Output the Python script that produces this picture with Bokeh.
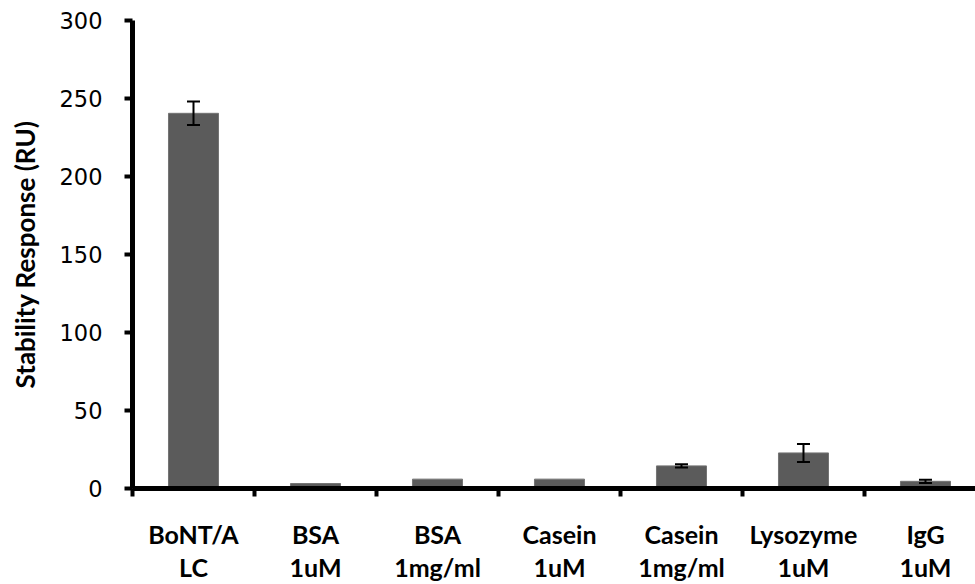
from bokeh.plotting import figure
from bokeh.models import (Range1d, FixedTicker, ColumnDataSource, Whisker,
                          TeeHead, LinearAxis)
from bokeh.embed import file_html
from bokeh.resources import INLINE

# ---- data ----
categories = ["BoNT/A\nLC", "BSA\n1uM", "BSA\n1mg/ml", "Casein\n1uM",
              "Casein\n1mg/ml", "Lysozyme\n1uM", "IgG\n1uM"]
values = [240.5, 3.2, 6.0, 6.0, 14.5, 22.8, 4.6]
errors = [7.5, 0.0, 0.0, 0.0, 1.0, 5.8, 1.0]
y_ticks = [0, 50, 100, 150, 200, 250, 300]

centers = [i + 0.5 for i in range(len(categories))]
bounds = [i for i in range(len(categories) + 1)]
line1 = [c.split("\n")[0] for c in categories]
line2 = [c.split("\n")[1] for c in categories]

p = figure(width=975, height=584, output_backend="svg", toolbar_location=None,
           x_range=Range1d(0, 6.91), y_range=Range1d(0, 300),
           min_border_left=132, min_border_right=0, min_border_top=20,
           min_border_bottom=96)
p.outline_line_color = None
p.grid.visible = False
p.background_fill_color = "white"
p.border_fill_color = "white"

src = ColumnDataSource(dict(x=centers, top=values))
p.vbar(x="x", top="top", width=0.41, bottom=0, source=src,
       fill_color="#5b5b5b", line_color="#747474", line_width=1)

ex = [c for c, e in zip(centers, errors) if e > 0]
ev = [v for v, e in zip(values, errors) if e > 0]
ee = [e for e in errors if e > 0]
esrc = ColumnDataSource(dict(x=ex, lo=[v - e for v, e in zip(ev, ee)],
                             hi=[v + e for v, e in zip(ev, ee)]))
w = Whisker(base="x", lower="lo", upper="hi", source=esrc, dimension="height",
            line_color="black", line_width=2, level="overlay",
            upper_head=TeeHead(size=13, line_width=2, line_color="black"),
            lower_head=TeeHead(size=13, line_width=2, line_color="black"))
p.add_layout(w)


def style_label_axis(ax, labels, standoff):
    ax.ticker = FixedTicker(ticks=centers, minor_ticks=bounds)
    ax.major_label_overrides = {c: lab for c, lab in zip(centers, labels)}
    ax.major_tick_out = 0
    ax.major_tick_in = 0
    ax.major_label_text_font = "Lato"
    ax.major_label_text_font_style = "bold"
    ax.major_label_text_font_size = "25px"
    ax.major_label_text_color = "black"
    ax.major_label_standoff = standoff


# x axis (first label line, axis line and boundary ticks)
xa = p.xaxis[0]
style_label_axis(xa, line1, 22)
xa.minor_tick_out = 8
xa.minor_tick_in = 0
xa.minor_tick_line_width = 4
xa.minor_tick_line_color = "black"
xa.axis_line_width = 5
xa.axis_line_color = "black"

# second label line
xb = LinearAxis()
style_label_axis(xb, line2, -4)
xb.axis_line_color = None
xb.minor_tick_line_color = None
xb.major_tick_line_color = None
p.add_layout(xb, "below")

# y axis
ya = p.yaxis[0]
ya.ticker = FixedTicker(ticks=y_ticks, minor_ticks=[])
ya.major_tick_out = 8
ya.major_tick_in = 0
ya.major_tick_line_width = 4
ya.major_tick_line_color = "black"
ya.axis_line_width = 5
ya.axis_line_color = "black"
ya.major_label_text_font = "DejaVu Sans"
ya.major_label_text_font_size = "22.5px"
ya.major_label_text_color = "black"
ya.major_label_standoff = 22
ya.axis_label = "Stability Response (RU)"
ya.axis_label_text_font = "Lato"
ya.axis_label_text_font_style = "bold"
ya.axis_label_text_font_size = "26px"
ya.axis_label_text_color = "black"
ya.axis_label_standoff = 16

open("out.html", "w").write(file_html(p, INLINE))
